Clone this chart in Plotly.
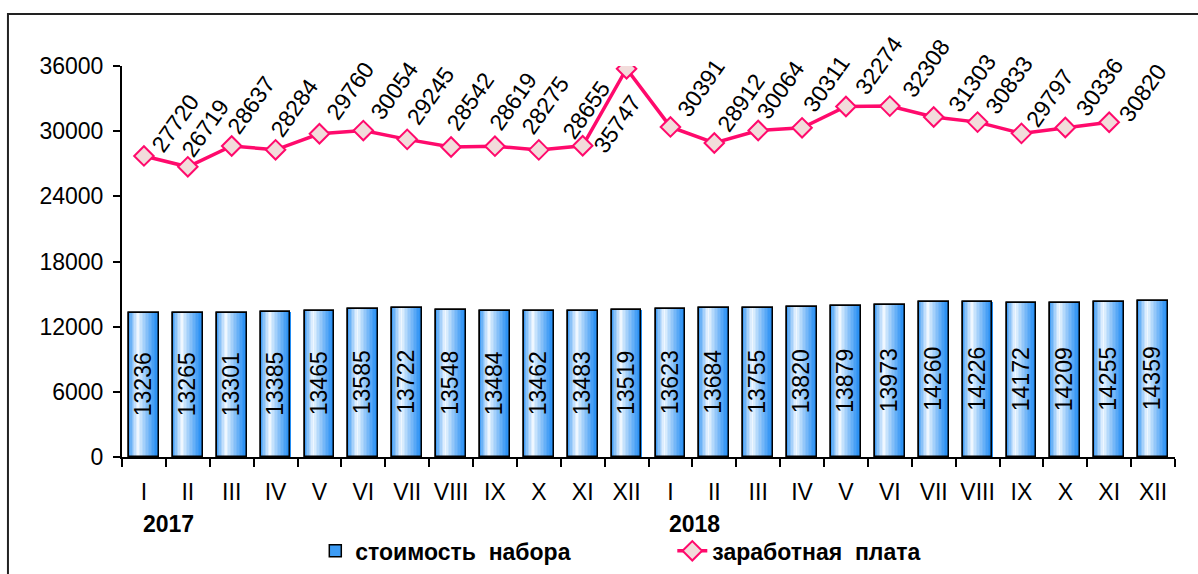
import plotly.graph_objects as go

months = ["I", "II", "III", "IV", "V", "VI", "VII", "VIII", "IX", "X", "XI", "XII"]
tick_labels = months + months
years = ["2017", "2018"]
basket_cost = [13236, 13265, 13301, 13385, 13465, 13585, 13722, 13548, 13484, 13462, 13483, 13519,
               13623, 13684, 13755, 13820, 13879, 13973, 14260, 14226, 14172, 14209, 14255, 14359]
salary = [27720, 26719, 28637, 28284, 29760, 30054, 29245, 28542, 28619, 28275, 28655, 35747,
          30391, 28912, 30064, 30311, 32274, 32308, 31303, 30833, 29797, 30336, 30820]

# pixel nudges of the rotated value labels (label placement, not data)
label_dx = [1, -13, -11, -12, 0, 0, -7, -11, -12, -24, -27, -40, 0, -4, -8, -6, 3, 6, 8, 1, -2, 4, 3]
label_dy = [-2, 4, 6, 7, 8, 5, 8, 11, 10, 10, 1, -90, 4, 5, 5, 10, 6, 3, -1, 2, 0, 5, -6]

x_bar = list(range(len(basket_cost)))
x_line = list(range(len(salary)))

FONT = "Arial, Liberation Sans, sans-serif"
FS = 23
PINK = "#ff0a6c"
BAR_W = 0.68

fig = go.Figure()

# base bar (legend entry)
fig.add_trace(go.Bar(x=x_bar, y=basket_cost, width=BAR_W, name="стоимость\u00a0\u00a0набора",
                     marker=dict(color="#3d9cf5", line=dict(color="black", width=1.5)),
                     hoverinfo="skip"))

# gradient slices (style only)
def lerp(a, b, t):
    return tuple(int(round(a[i] + (b[i] - a[i]) * t)) for i in range(3))

c_left, c_mid, c_right = (45, 145, 242), (242, 249, 255), (25, 135, 242)
N = 20
for i in range(N):
    t = (i + 0.5) / N
    if t < 0.32:
        c = lerp(c_left, c_mid, (t / 0.32) ** 0.8)
    else:
        c = lerp(c_mid, c_right, ((t - 0.32) / 0.68) ** 0.85)
    fig.add_trace(go.Bar(x=x_bar, y=basket_cost, width=BAR_W / N + 0.003,
                         offset=-BAR_W / 2 + i * BAR_W / N,
                         marker=dict(color="rgb(%d,%d,%d)" % c, line=dict(width=0)),
                         showlegend=False, hoverinfo="skip"))

# outline + labels
fig.add_trace(go.Bar(x=x_bar, y=basket_cost, width=BAR_W,
                     marker=dict(color="rgba(0,0,0,0)", line=dict(color="black", width=1.5)),
                     text=[str(v) for v in basket_cost], textposition="inside",
                     textangle=-90, insidetextanchor="middle",
                     textfont=dict(family=FONT, size=FS, color="black"),
                     constraintext="none", showlegend=False, hoverinfo="skip"))

fig.add_trace(go.Scatter(x=x_line, y=salary, mode="lines+markers", name="заработная\u00a0\u00a0плата",
                         line=dict(color=PINK, width=3.5),
                         marker=dict(symbol="diamond", size=15, color="#f2dcdb",
                                     line=dict(color=PINK, width=2))))

annotations = []
for xi, v, dx, dy in zip(x_line, salary, label_dx, label_dy):
    annotations.append(dict(x=xi, y=v, xref="x", yref="y", text=str(v), showarrow=False,
                            textangle=-55, xanchor="left", yanchor="bottom", xshift=dx, yshift=dy,
                            borderpad=0, font=dict(family=FONT, size=FS, color="black")))

for k, yr in enumerate(years):
    annotations.append(dict(x=12 * k + 0.55, y=-0.172, xref="x", yref="paper", text="<b>%s</b>" % yr,
                            showarrow=False, xanchor="center", yanchor="middle",
                            font=dict(family=FONT, size=FS, color="black")))

fig.update_layout(
    width=1198, height=574,
    margin=dict(l=122, r=23, t=66, b=117, autoexpand=False),
    paper_bgcolor="white", plot_bgcolor="white",
    barmode="overlay", bargap=0,
    font=dict(family=FONT, size=FS, color="black"),
    annotations=annotations,
    showlegend=True,
    legend=dict(orientation="h", x=0.5226, xanchor="center", y=-0.24, yanchor="middle",
                font=dict(family=FONT, size=FS, color="black", weight="bold"),
                entrywidth=312, bgcolor="rgba(0,0,0,0)"),
    shapes=[dict(type="rect", xref="paper", yref="paper", x0=-0.1083, x1=1.1, y0=-0.4, y1=1.133,
                 line=dict(color="#222", width=2), fillcolor="rgba(0,0,0,0)", layer="below")],
)

fig.update_xaxes(range=[-0.5, len(basket_cost) - 0.5], tickmode="array", tickvals=x_bar,
                 ticktext=tick_labels, ticks="", showgrid=False, zeroline=False,
                 showline=True, linecolor="black", linewidth=2,
                 tickfont=dict(family=FONT, size=FS, color="black"), ticklabelstandoff=13,
                 minor=dict(tickmode="array", tickvals=[i - 0.5 for i in range(len(basket_cost) + 1)],
                            ticks="outside", ticklen=8, tickwidth=2, tickcolor="black", showgrid=False))
fig.update_yaxes(range=[0, 36000], tickmode="linear", tick0=0, dtick=6000, tickformat="d",
                 ticks="outside", ticklen=7, tickwidth=2, tickcolor="black", ticklabelstandoff=5,
                 showgrid=False, zeroline=False, showline=True, linecolor="black", linewidth=2,
                 tickfont=dict(family=FONT, size=FS, color="black"))

fig.write_html("out.html", config={"displayModeBar": False},
               post_script="document.body.style.margin='0';")
